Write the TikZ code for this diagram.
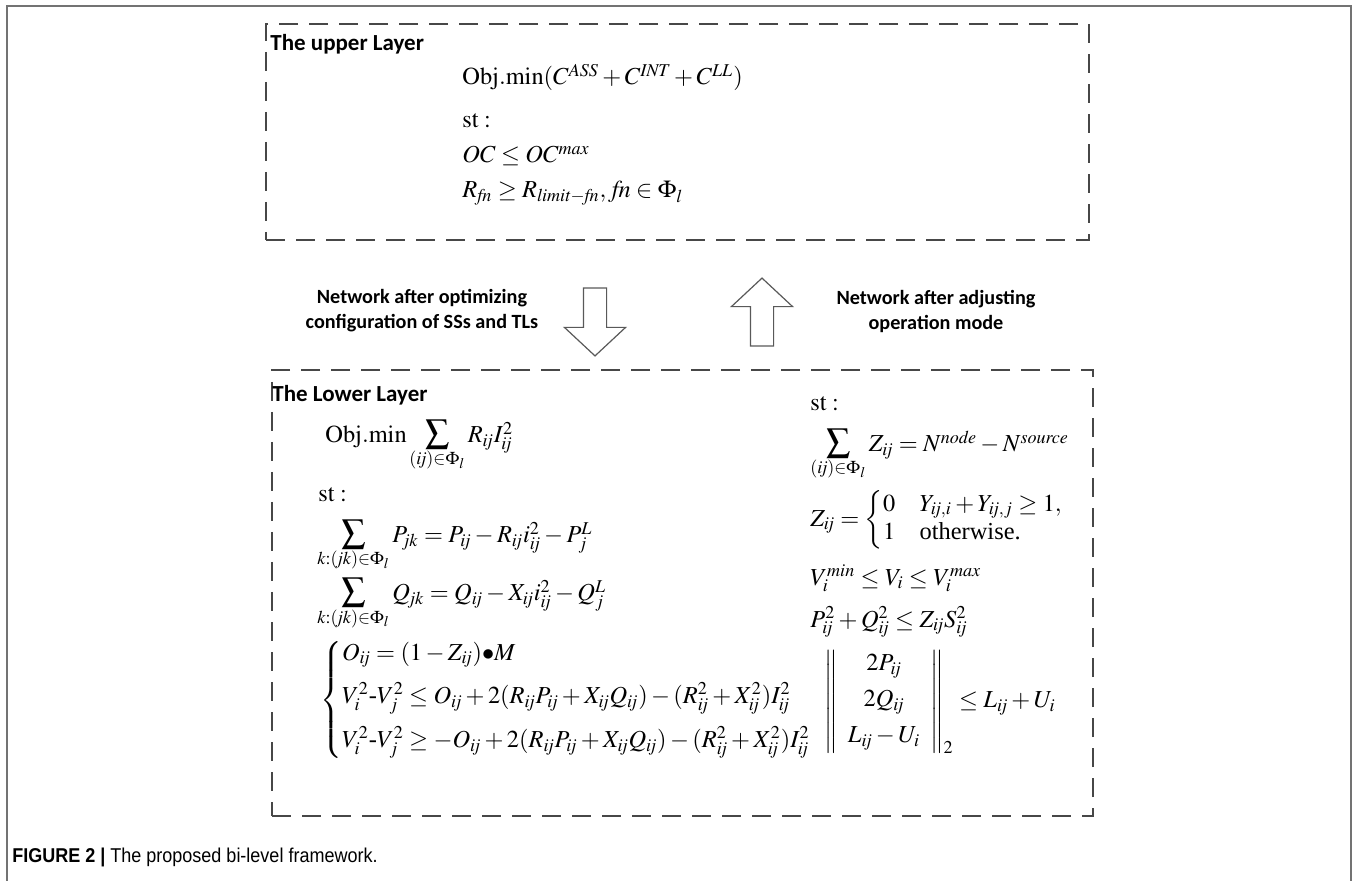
\documentclass[tikz,border=0pt]{standalone}
\usepackage{amsmath}
\usepackage{graphicx}
\usepackage{mathptmx}
\usepackage[no-math]{fontspec}
\setmainfont{Liberation Serif}
\newfontfamily\calfont{Carlito}
\newfontfamily\capfont[FakeStretch=0.9]{Liberation Sans}
\usetikzlibrary{shapes.arrows}

% somma con pedice ravvicinato, pedici in corsivo testo, spaziature strette
\newcommand{\bigSum}[1]{\mathop{\begin{array}[t]{@{}c@{}}
  \scalebox{1.4}{$\textstyle\sum$}\\[-2pt]\scriptstyle #1\end{array}}}
\newcommand{\sij}{\mathit{ij}}
\medmuskip=2.5mu plus 2mu minus 2mu
\thickmuskip=4mu plus 3mu

\tikzset{
  layerbox/.style={draw=black!72, line width=1.4pt, dash pattern=on 9.5pt off 5.5pt, inner sep=0pt},
  layertitle/.style={anchor=west, inner sep=0pt, font=\calfont\bfseries\fontsize{11.5}{13}\selectfont},
  eqn/.style={anchor=base west, inner sep=0pt, font=\fontsize{12.2}{13}\selectfont},
  netlabel/.style={align=center, inner sep=0pt, font=\calfont\bfseries\fontsize{10.1}{12.5}\selectfont},
  blockarrow/.style={single arrow, draw=black!65, fill=white, line width=0.6pt, inner sep=5.5pt,
    minimum height=34pt, single arrow head extend=9.5pt, single arrow tip angle=94}
}

\begin{document}
\begin{tikzpicture}[x=0.5pt, y=-0.5pt]
\useasboundingbox (0,0) rectangle (1354,881);

% --- cornice esterna
\draw[black!55, line width=1pt] (7,881) -- (7,6) -- (1351,6) -- (1351,881);

% --- livello superiore
\node[layerbox, minimum width=411.5pt, minimum height=108pt] (upper) at (677.5,132) {};
\node[layertitle] (uptitle) at (270,44) {The upper Layer};
\node[eqn] (upobj) at (462,85) {$\mathrm{Obj.min}(C^{\mathit{ASS}}+C^{\mathit{INT}}+C^{\mathit{LL}})$};
\node[eqn] (upst) at (462,128) {$\mathrm{st}:$};
\node[eqn] (upoc) at (462,163) {$OC\le OC^{\mathit{max}}$};
\node[eqn] (uprf) at (462,198) {$R_{\mathit{fn}}\ge R_{\mathit{limit}-\mathit{fn}},\, \mathit{fn}\in\Phi_l$};

% --- frecce tra i livelli
\node[blockarrow, shape border rotate=270] (down) at (595,316.5) {};
\node[blockarrow, shape border rotate=90] (up) at (762,317.5) {};
\node[netlabel] (downlbl) at (422,311) {Network after optimizing\\configuration of SSs and TLs};
\node[netlabel] (uplbl) at (936,311) {Network after adjusting\\operation mode};

% --- livello inferiore
\node[layerbox, minimum width=410.5pt, minimum height=223pt] (lower) at (682.5,593) {};
\node[layertitle] (lowtitle) at (272,395) {The Lower Layer};
\node[eqn] (lowobj) at (325,443) {$\mathrm{Obj.min}\bigSum{(\sij)\in\Phi_l}R_{\sij}I_{\sij}^2$};
\node[eqn] (lowst) at (318,502) {$\mathrm{st}:$};
\node[eqn] (lowp) at (317,543) {$\bigSum{k:(\mathit{jk})\in\Phi_l}P_{\mathit{jk}}=P_{\sij}-R_{\sij}i_{\sij}^2-P_j^L$};
\node[eqn] (lowq) at (317,601) {$\bigSum{k:(\mathit{jk})\in\Phi_l}Q_{\mathit{jk}}=Q_{\sij}-X_{\sij}i_{\sij}^2-Q_j^L$};
\node[eqn, anchor=west] (lowcases) at (320,700) {$\left\{\begin{array}{@{}l@{}}
  O_{\sij}=(1-Z_{\sij}){\bullet}M\\[7.5pt]
  V_i^2\mbox{-}V_j^2\le O_{\sij}+2(R_{\sij}P_{\sij}+X_{\sij}Q_{\sij})-(R_{\sij}^2+X_{\sij}^2)I_{\sij}^2\\[7.5pt]
  V_i^2\mbox{-}V_j^2\ge -O_{\sij}+2(R_{\sij}P_{\sij}+X_{\sij}Q_{\sij})-(R_{\sij}^2+X_{\sij}^2)I_{\sij}^2
\end{array}\right.$};

% colonna destra
\node[eqn] (rst) at (810,411) {$\mathrm{st}:$};
\node[eqn] (rz) at (810,452) {$\bigSum{(\sij)\in\Phi_l}Z_{\sij}=N^{\mathit{node}}-N^{\mathit{source}}$};
\node[eqn, anchor=west] (rzcases) at (810,520) {$Z_{\sij}=\left\{\begin{array}{@{}l@{\quad}l@{}}
  0 & Y_{\sij,i}+Y_{\sij,j}\ge 1,\\[1pt] 1 & \text{otherwise.}\end{array}\right.$};
\node[eqn] (rv) at (810,585) {$V_i^{\mathit{min}}\le V_i\le V_i^{\mathit{max}}$};
\node[eqn] (rs) at (810,627) {$P_{\sij}^2+Q_{\sij}^2\le Z_{\sij}S_{\sij}^2$};
\node[eqn, anchor=west] (rnorm) at (824,702) {$\left\|\begin{array}{c}
  2P_{\sij}\\[5pt] 2Q_{\sij}\\[5pt] L_{\sij}-U_i
\end{array}\right\|_2\le L_{\sij}+U_i$};

% --- didascalia
\node[anchor=west, inner sep=0pt, font=\capfont\fontsize{10}{12}\selectfont] (caption) at (12,857)
  {{\bfseries FIGURE 2 |} The proposed bi-level framework.};

\end{tikzpicture}
\end{document}
